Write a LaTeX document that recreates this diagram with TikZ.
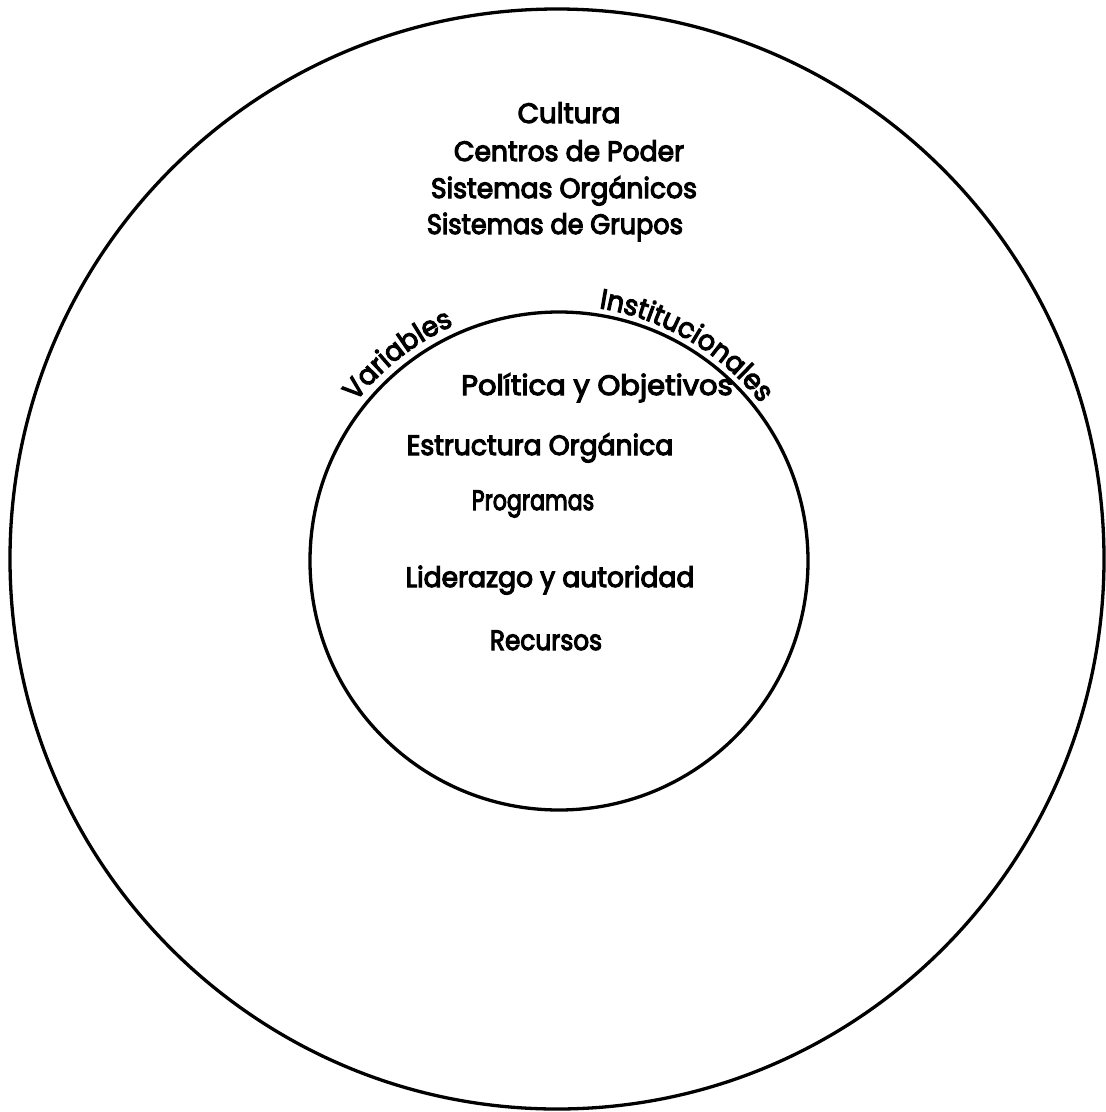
\documentclass[tikz,border=0pt]{standalone}
\usepackage{graphicx}
\usepackage{fontspec}
\setmainfont{Poppins}[FakeStretch=0.95,FakeBold=4]
\usetikzlibrary{decorations.text}
\newcommand\diagfont{\fontsize{28}{34}\selectfont}
% horizontal squeeze / stretch of one line of lettering
\newcommand\sqz[2]{\scalebox{#1}[1]{#2}}
\begin{document}
\begin{tikzpicture}[x=1pt,y=-1pt,
  ring/.style={line width=3.3pt},
  lbl/.style={anchor=base,inner sep=0pt,font=\diagfont},
  arctext/.style={decorate,decoration={text along path,text align=center,text={|\diagfont|#1}}},
]
\useasboundingbox (0,0) rectangle (1106,1112);
\fill[white] (0,0) rectangle (1106,1112);

% the two concentric rings
\coordinate (oc) at (557,559);
\coordinate (ic) at (559,561);
\draw[ring] (oc) ellipse [x radius=547, y radius=550];
\draw[ring] (ic) circle [radius=249];

% outer ring: surroundings of the institution
\node[lbl] (cult) at (569,123) {\sqz{1.04}{Cultura}};
\node[lbl] (cent) at (569,161) {Centros de Poder};
\node[lbl] (sorg) at (564,198) {Sistemas Orgánicos};
\node[lbl] (sgru) at (555,234) {\sqz{0.96}{Sistemas de Grupos}};

% inner circle: institutional variables
\node[lbl] (poli) at (597,395) {\sqz{1.09}{Política y Objetivos}};
\node[lbl] (estr) at (540,455) {Estructura Orgánica};
\node[lbl] (prog) at (533,510) {\sqz{0.83}{Programas}};
\node[lbl] (lide) at (550,587) {Liderazgo y autoridad};
\node[lbl] (recu) at (546,650) {\sqz{0.93}{Recursos}};

% title bent along the inner circle
\path[arctext=Variables] ([shift={(-150:258)}]ic) arc[start angle=-150, end angle=-106, radius=258];
\path[arctext=Institucionales] ([shift={(-93.5:256)}]ic) arc[start angle=-93.5, end angle=-25.5, radius=256];
\end{tikzpicture}
\end{document}
